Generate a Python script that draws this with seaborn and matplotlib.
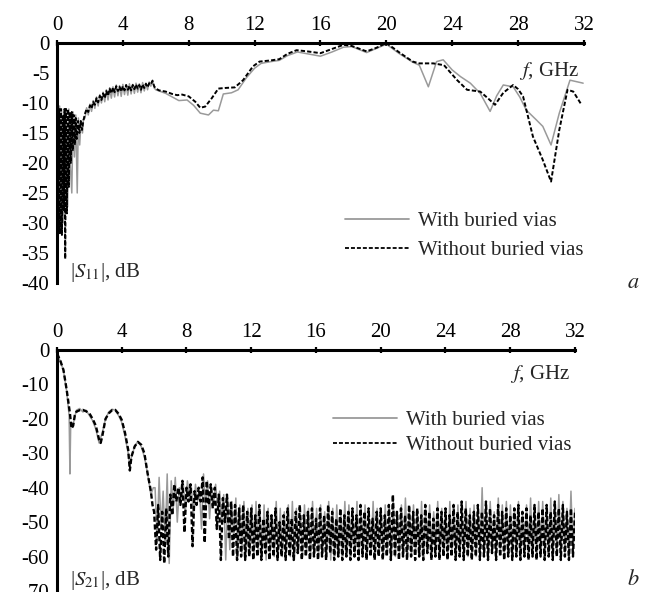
import numpy as np
import pandas as pd
import matplotlib
matplotlib.use("Agg")
import matplotlib.pyplot as plt
import seaborn as sns

# ---- axis ticks ----
freq_ticks = [0, 4, 8, 12, 16, 20, 24, 28, 32]
s11_ticks = [0, -5, -10, -15, -20, -25, -30, -35, -40]
s21_ticks = [0, -10, -20, -30, -40, -50, -60, -70]

# ---- |S11|: with buried vias (solid, grey) ----
s11_with_f0 = [0, 0.05, 0.1, 0.16, 0.22, 0.28, 0.34, 0.38, 0.44, 0.5, 0.56, 0.65,
               0.72, 0.8, 0.9, 0.98, 1.06, 1.14, 1.23, 1.3, 1.38, 1.46, 1.55, 1.6]
s11_with_v0 = [-16, -8, -20, -10.5, -24, -11, -27, -30, -11, -22, -11, -27.3,
               -11, -20, -25, -11.5, -19, -12, -25, -12.5, -17, -13, -15, -12.8]
s11_with_v1 = [-12.5, -10.8, -12.0, -10.2, -11.4, -9.6, -10.9, -9.0, -10.5, -8.6, -10.0,
               -8.2, -9.8, -7.8, -9.5, -7.5, -9.2, -7.3, -9.0, -7.0, -8.8, -7.1,
               -8.9, -6.9, -8.6, -7.0, -8.7, -6.8, -8.5, -6.9, -8.4, -6.7, -8.2,
               -6.8, -8.3, -6.6, -8.0, -6.7, -7.8, -6.5, -7.2, -6.2, -7.5, -7.8]
s11_with_f2 = [6.2, 6.6, 7.0, 7.4, 7.9, 8.3, 8.7, 9.2, 9.5, 9.8, 10.1, 10.6, 11.0, 11.5,
               12.0, 12.4, 13.0, 13.5, 14.0, 14.6, 15.2, 16.0, 16.7, 17.4, 17.9, 18.8,
               19.4, 20.0, 20.8, 21.6, 22.0, 22.55, 23.05, 23.45, 24.0, 24.5, 25.1,
               25.7, 26.3, 26.7, 27.1, 27.7, 28.1, 28.5, 29.1, 29.5, 30.0, 30.5,
               31.15, 31.95]
s11_with_v2 = [-8.0, -8.4, -9.0, -9.6, -9.5, -10.4, -11.7, -12.0, -11.2, -11.3, -8.5,
               -8.3, -7.8, -5.8, -4.2, -3.4, -3.1, -2.9, -2.1, -1.5, -1.8, -2.2, -1.5,
               -0.7, -0.6, -1.6, -0.9, -0.2, -1.8, -3.2, -3.7, -7.3, -3.1, -2.8, -4.5,
               -5.6, -6.7, -8.4, -11.4, -8.8, -7.0, -7.3, -9.0, -11.2, -12.8, -13.9,
               -17.0, -11.7, -6.2, -6.7]

# ---- |S11|: without buried vias (dashed, black) ----
s11_without_f0 = [0, 0.03, 0.08, 0.13, 0.18, 0.24, 0.3, 0.36, 0.42, 0.46, 0.5, 0.55, 0.6,
                  0.66, 0.72, 0.78, 0.84, 0.9, 0.96, 1.02, 1.08, 1.14, 1.2, 1.28, 1.36,
                  1.44, 1.52, 1.6]
s11_without_v0 = [-18, -7.5, -22, -11, -31.7, -11, -32, -12, -28, -11, -36, -11, -28.4,
                  -11, -24, -11.5, -20, -11.5, -18, -12, -17, -12.5, -16, -13, -15,
                  -13, -14.5, -13]
s11_without_v1 = [-11.8, -11.0, -11.5, -10.4, -10.9, -9.8, -10.3, -9.2, -9.9, -8.8, -9.5,
                  -8.4, -9.2, -8.0, -8.8, -7.6, -8.4, -7.4, -8.2, -7.2, -8.0, -7.3,
                  -8.1, -7.2, -7.9, -7.0, -7.8, -7.1, -7.9, -7.0, -7.7, -6.9, -7.6,
                  -7.0, -7.8, -6.9, -7.5, -6.8, -7.4, -6.7, -6.9, -6.3, -7.2, -7.6]
s11_without_f2 = [6.2, 6.6, 7.0, 7.3, 7.6, 8.0, 8.4, 8.7, 9.0, 9.4, 9.8, 10.2, 10.8, 11.3,
                  11.9, 12.3, 13.0, 13.5, 14.0, 14.55, 15.2, 16.0, 16.7, 17.4, 17.9,
                  18.8, 19.4, 20.0, 20.8, 21.6, 22.0, 22.85, 23.5, 24.3, 24.9, 25.7,
                  26.2, 26.6, 27.1, 27.7, 28.0, 28.3, 28.9, 29.5, 30.0, 30.5, 31.0,
                  31.35, 31.85]
s11_without_v2 = [-7.9, -8.1, -8.5, -8.7, -8.6, -8.9, -9.8, -10.8, -10.6, -9.2, -7.6, -7.5,
                  -7.4, -6.2, -3.9, -3.1, -2.9, -2.7, -1.8, -1.2, -1.4, -1.7, -1.0, -0.3,
                  -0.5, -1.4, -0.8, 0.0, -1.6, -3.1, -3.4, -3.4, -3.7, -6.2, -7.8, -8.1,
                  -9.3, -10.3, -8.3, -7.0, -7.7, -8.9, -15.6, -19.5, -23.1, -14.5, -7.8,
                  -8.1, -10.3]

# ---- |S21|: with buried vias (solid, grey) ----
s21_with_f0 = [0, 0.2, 0.4, 0.6, 0.75, 0.8, 0.85, 1.0, 1.2, 1.4, 1.6, 1.8, 2.0, 2.2, 2.4,
               2.6, 2.8, 3.0, 3.2, 3.4, 3.6, 3.8, 4.0, 4.2, 4.4, 4.5, 4.6, 4.8, 5.0,
               5.2, 5.4, 5.6, 5.8, 5.95]
s21_with_v0 = [-1, -3.2, -6, -12, -19, -36, -21, -21.5, -17.5, -17, -18, -17.5, -19,
               -20.5, -23, -27, -24, -20, -18, -17.2, -17.5, -19, -21, -25, -30, -34,
               -31, -28, -26.5, -28, -31, -36, -42, -40]
s21_with_v1 = [
    -40, -55, -37, -52, -41, -56, -36, -62, -38, -46, -37, -50, -40, -44, -39, -47,
    -38, -43, -40, -48, -39, -44, -41, -52, -36, -45, -38, -49, -40, -44, -39, -46,
    -41, -50, -42, -61, -43, -58, -44, -55, -43, -60, -45, -59, -44, -60, -46, -59,
    -45, -60, -44, -59, -47, -60, -45, -61, -46, -59, -48, -60, -44, -59, -46, -60,
    -47, -59, -45, -60, -44, -61, -46, -59, -48, -60, -45, -59, -46, -60, -44, -59,
    -46, -60, -45, -59, -47, -60, -44, -61, -46, -59, -45, -60, -47, -59, -44, -60,
    -45, -59, -47, -60, -44, -61, -46, -59, -45, -60, -48, -59, -44, -60, -46, -59,
    -47, -60, -45, -59, -46, -61, -44, -60, -47, -59, -45, -60, -43, -59, -46, -60,
    -45, -59, -47, -60, -44, -61, -46, -59, -45, -60, -47, -59, -44, -60, -46, -59,
    -47, -60, -44, -59, -46, -61, -45, -60, -47, -59, -44, -60, -46, -59, -45, -60,
    -46, -59, -40, -60, -45, -61, -44, -59, -47, -60, -43, -59, -45, -60, -44, -59,
    -45, -60, -46, -59, -44, -61, -47, -60, -45, -59, -43, -60, -46, -59, -44, -60,
    -44, -59, -46, -60, -43, -61, -45, -59, -42, -60, -44, -59, -46, -60, -41, -59,
    -46]

# ---- |S21|: without buried vias (dashed, black) ----
s21_without_f0 = [0, 0.2, 0.4, 0.6, 0.8, 0.9, 1.0, 1.1, 1.2, 1.4, 1.6, 1.8, 2.0, 2.2, 2.4,
                  2.6, 2.7, 2.8, 3.0, 3.2, 3.4, 3.6, 3.8, 4.0, 4.2, 4.4, 4.5, 4.6, 4.8,
                  5.0, 5.2, 5.4, 5.6, 5.8, 5.9]
s21_without_v0 = [-1, -3, -5.8, -11.6, -18.4, -22.8, -22, -19, -17.9, -17.5, -17.4, -17.8,
                  -18.4, -20, -22, -26, -27, -25, -20, -18.4, -17.5, -17.4, -18.5, -20.3,
                  -24, -29, -35, -31, -28, -26.7, -27.5, -30, -35.9, -41, -45]
s21_without_v1 = [
    -47, -58, -45, -61, -47, -62, -46, -60, -42, -48, -39, -44, -40, -45, -38, -53,
    -40, -44, -39, -57, -41, -45, -40, -44, -37, -56, -38, -45, -39, -46, -40, -52,
    -42, -61, -43, -50, -42, -55, -44, -60, -45, -61, -46, -60, -45, -61, -47, -60,
    -46, -61, -48, -60, -45, -61, -49, -59, -47, -61, -48, -60, -46, -61, -50, -60,
    -48, -61, -46, -60, -49, -61, -47, -59, -45, -61, -48, -60, -47, -61, -46, -60,
    -49, -61, -46, -60, -48, -61, -45, -59, -47, -61, -49, -60, -46, -61, -48, -60,
    -47, -61, -46, -60, -48, -61, -45, -60, -47, -61, -46, -60, -49, -61, -47, -60,
    -46, -61, -48, -60, -45, -61, -42, -60, -47, -61, -46, -60, -48, -61, -45, -60,
    -47, -61, -46, -60, -48, -61, -45, -59, -47, -61, -49, -60, -46, -61, -47, -60,
    -46, -61, -48, -60, -45, -61, -47, -60, -44, -61, -46, -60, -48, -61, -47, -60,
    -45, -61, -47, -60, -44, -61, -46, -59, -48, -61, -45, -60, -47, -61, -46, -60,
    -48, -61, -46, -60, -45, -61, -47, -60, -46, -61, -48, -60, -45, -61, -47, -60,
    -46, -61, -45, -60, -47, -61, -44, -60, -46, -61, -45, -60, -47, -61, -46, -60,
    -47]


def series(parts):
    f = np.concatenate([np.asarray(p[0], float) for p in parts])
    v = np.concatenate([np.asarray(p[1], float) for p in parts])
    return pd.DataFrame({"f": f, "v": v})


s11_with = series([(s11_with_f0, s11_with_v0),
                   (np.linspace(1.7, 6.0, len(s11_with_v1)), s11_with_v1),
                   (s11_with_f2, s11_with_v2)])
s11_without = series([(s11_without_f0, s11_without_v0),
                      (np.linspace(1.7, 6.0, len(s11_without_v1)), s11_without_v1),
                      (s11_without_f2, s11_without_v2)])
s21_with = series([(s21_with_f0, s21_with_v0),
                   (np.linspace(6.06, 32.0, len(s21_with_v1)), s21_with_v1)])
s21_without = series([(s21_without_f0, s21_without_v0),
                      (np.linspace(6.0, 32.0, len(s21_without_v1)), s21_without_v1)])

sns.set_style("white")
plt.rcParams["font.family"] = ["Liberation Serif", "DejaVu Serif"]
plt.rcParams["mathtext.fontset"] = "stix"
plt.rcParams["axes.unicode_minus"] = False

fig = plt.figure(figsize=(6.46, 5.92), dpi=100)
ax_a = fig.add_axes([0.0882, 0.522, 0.8158, 0.4054])
ax_b = fig.add_axes([0.0882, 0.0017, 0.8019, 0.4071])

GREY = "#9a9a9a"
FS = 15


def draw(ax, d_with, d_without, yticks, ylab, dash_lw, leg_anchor, leg_space, flab_y):
    sns.lineplot(data=d_with, x="f", y="v", ax=ax, color=GREY, lw=1.1,
                 estimator=None, sort=False, label="With buried vias")
    sns.lineplot(data=d_without, x="f", y="v", ax=ax, color="black", lw=dash_lw,
                 estimator=None, sort=False, linestyle=(0, (2.2, 1.1)),
                 label="Without buried vias")
    ax.set_xlim(0, 32)
    ax.set_ylim(yticks[-1], 0)
    ax.set_xticks(freq_ticks)
    ax.set_xticklabels([str(t) for t in freq_ticks])
    ax.set_yticks(yticks)
    ax.set_yticklabels([str(t) for t in yticks])
    ax.xaxis.tick_top()
    ax.set_xlabel("")
    ax.set_ylabel("")
    for side in ["right", "bottom"]:
        ax.spines[side].set_visible(False)
    for side in ["left", "top"]:
        ax.spines[side].set_linewidth(2.2)
        ax.spines[side].set_color("black")
    ax.tick_params(axis="both", direction="inout", length=5, width=1.6,
                   labelsize=FS, colors="black", pad=3)
    ax.patch.set_alpha(0)
    ax.text(0.99, flab_y, "$f$, GHz", transform=ax.transAxes, ha="right",
            va="center", fontsize=FS)
    ax.text(0.025, 0.045, ylab, transform=ax.transAxes, ha="left", va="center",
            fontsize=FS)
    leg = ax.legend(loc="lower right", bbox_to_anchor=leg_anchor, frameon=False,
                    fontsize=FS, handlelength=3.1, handletextpad=0.4,
                    labelspacing=leg_space, borderpad=0)
    for line in leg.get_lines():
        line.set_linewidth(1.3)


draw(ax_a, s11_with, s11_without, s11_ticks, "|$S_{11}$|, dB", 1.4,
     (1.018, 0.0525), 0.43, 0.885)
draw(ax_b, s21_with, s21_without, s21_ticks, "|$S_{21}$|, dB", 1.7,
     (1.0127, 0.5215), 0.25, 0.9)

fig.text(0.99, 1 - 283 / 592, "$a$", ha="right", va="center", fontsize=FS + 1)
fig.text(0.99, 1 - 580 / 592, "$b$", ha="right", va="center", fontsize=FS + 1)

fig.savefig("out.png", dpi=100)
